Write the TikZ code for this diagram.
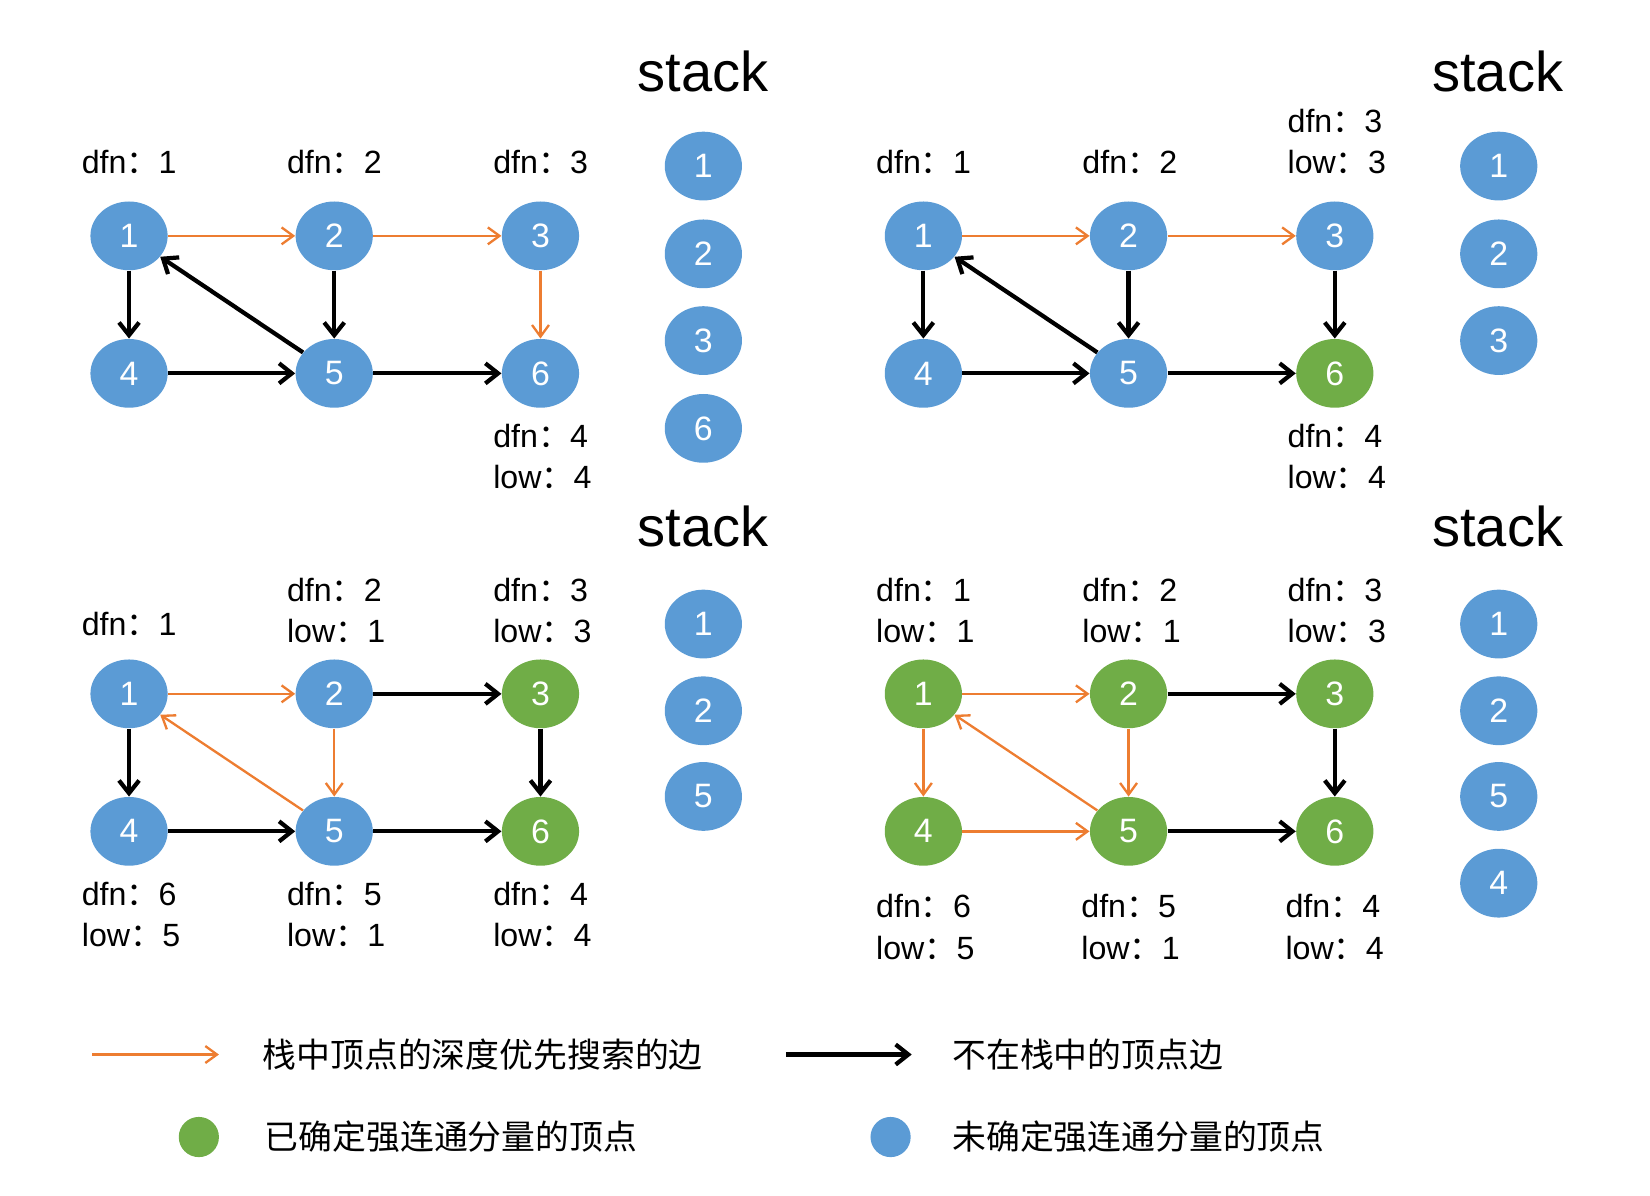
\documentclass[tikz,border=0pt]{standalone}
\usepackage{fontspec}
\setmainfont{Liberation Sans}
\newfontfamily\cjk{Noto Sans CJK SC}
\usetikzlibrary{shapes.geometric,arrows.meta}
\definecolor{nblue}{HTML}{5B9BD5}
\definecolor{ngreen}{HTML}{70AD47}
\definecolor{eorange}{HTML}{ED7D31}
\newcommand{\dl}[2]{#1{\cjk ：}#2}
\begin{document}
\begin{tikzpicture}[x=0.5pt,y=-0.5pt,
  vtx/.style={ellipse, minimum width=36.5pt, minimum height=32.5pt, inner sep=0pt, text=white, font=\fontsize{16}{16}\selectfont},
  bv/.style={vtx, fill=nblue},
  gv/.style={vtx, fill=ngreen},
  lbl/.style={anchor=west, inner sep=0pt, font=\fontsize{15.2}{15.2}\selectfont},
  stk/.style={inner sep=0pt, font=\fontsize{26.5}{26.5}\selectfont},
  legtxt/.style={anchor=west, inner sep=0pt, font=\cjk\fontsize{16}{16}\selectfont},
  dot/.style={circle, minimum size=19pt, inner sep=0pt},
  oe/.style={draw=eorange, line width=1.1pt, -{Straight Barb[length=5.5pt,width=8pt]}},
  be/.style={draw=black, line width=2pt, -{Straight Barb[length=6pt,width=9.5pt]}},
]
\useasboundingbox (0,0) rectangle (1560,1130);

% ---------- Panel A ----------
\node[bv] (a1) at (122,223) {1};
\node[bv] (a2) at (316,223) {2};
\node[bv] (a3) at (511,223) {3};
\node[bv] (a4) at (122,353) {4};
\node[bv] (a5) at (316,353) {5};
\node[bv] (a6) at (511,353) {6};
\node[lbl] (la1) at (77,153) {\dl{dfn}{1}};
\node[lbl] (la2) at (271,153) {\dl{dfn}{2}};
\node[lbl] (la3) at (466,153) {\dl{dfn}{3}};
\node[lbl] (la6d) at (466,412) {\dl{dfn}{4}};
\node[lbl] (la6l) at (466,451) {\dl{low}{4}};
\node[stk] (sta) at (665,68) {stack};
\node[bv] (sa1) at (665,157) {1};
\node[bv] (sa2) at (665,240) {2};
\node[bv] (sa3) at (665,322) {3};
\node[bv] (sa6) at (665,405) {6};
\draw[oe] (a1) -- (a2);
\draw[oe] (a2) -- (a3);
\draw[oe] (a3) -- (a6);
\draw[be] (a1) -- (a4);
\draw[be] (a2) -- (a5);
\draw[be] (a5) -- (a1);
\draw[be] (a4) -- (a5);
\draw[be] (a5) -- (a6);

% ---------- Panel B ----------
\node[bv] (b1) at (873,223) {1};
\node[bv] (b2) at (1067,223) {2};
\node[bv] (b3) at (1262,223) {3};
\node[bv] (b4) at (873,353) {4};
\node[bv] (b5) at (1067,353) {5};
\node[gv] (b6) at (1262,353) {6};
\node[lbl] (lb1) at (828,153) {\dl{dfn}{1}};
\node[lbl] (lb2) at (1023,153) {\dl{dfn}{2}};
\node[lbl] (lb3d) at (1217,114) {\dl{dfn}{3}};
\node[lbl] (lb3l) at (1217,153) {\dl{low}{3}};
\node[lbl] (lb6d) at (1217,412) {\dl{dfn}{4}};
\node[lbl] (lb6l) at (1217,451) {\dl{low}{4}};
\node[stk] (stb) at (1416,68) {stack};
\node[bv] (sb1) at (1417,157) {1};
\node[bv] (sb2) at (1417,240) {2};
\node[bv] (sb3) at (1417,322) {3};
\draw[oe] (b1) -- (b2);
\draw[oe] (b2) -- (b3);
\draw[be] (b3) -- (b6);
\draw[be] (b1) -- (b4);
\draw[be] (b2) -- (b5);
\draw[be] (b5) -- (b1);
\draw[be] (b4) -- (b5);
\draw[be] (b5) -- (b6);

% ---------- Panel C ----------
\node[bv] (c1) at (122,656) {1};
\node[bv] (c2) at (316,656) {2};
\node[gv] (c3) at (511,656) {3};
\node[bv] (c4) at (122,786) {4};
\node[bv] (c5) at (316,786) {5};
\node[gv] (c6) at (511,786) {6};
\node[lbl] (lc1) at (77,590) {\dl{dfn}{1}};
\node[lbl] (lc2d) at (271,558) {\dl{dfn}{2}};
\node[lbl] (lc2l) at (271,597) {\dl{low}{1}};
\node[lbl] (lc3d) at (466,558) {\dl{dfn}{3}};
\node[lbl] (lc3l) at (466,597) {\dl{low}{3}};
\node[lbl] (lc4d) at (77,845) {\dl{dfn}{6}};
\node[lbl] (lc4l) at (77,884) {\dl{low}{5}};
\node[lbl] (lc5d) at (271,845) {\dl{dfn}{5}};
\node[lbl] (lc5l) at (271,884) {\dl{low}{1}};
\node[lbl] (lc6d) at (466,845) {\dl{dfn}{4}};
\node[lbl] (lc6l) at (466,884) {\dl{low}{4}};
\node[stk] (stc) at (665,498) {stack};
\node[bv] (sc1) at (665,590) {1};
\node[bv] (sc2) at (665,672) {2};
\node[bv] (sc5) at (665,753) {5};
\draw[oe] (c1) -- (c2);
\draw[be] (c2) -- (c3);
\draw[be] (c3) -- (c6);
\draw[be] (c1) -- (c4);
\draw[oe] (c2) -- (c5);
\draw[oe] (c5) -- (c1);
\draw[be] (c4) -- (c5);
\draw[be] (c5) -- (c6);

% ---------- Panel D ----------
\node[gv] (d1) at (873,656) {1};
\node[gv] (d2) at (1067,656) {2};
\node[gv] (d3) at (1262,656) {3};
\node[gv] (d4) at (873,786) {4};
\node[gv] (d5) at (1067,786) {5};
\node[gv] (d6) at (1262,786) {6};
\node[lbl] (ld1d) at (828,558) {\dl{dfn}{1}};
\node[lbl] (ld1l) at (828,597) {\dl{low}{1}};
\node[lbl] (ld2d) at (1023,558) {\dl{dfn}{2}};
\node[lbl] (ld2l) at (1023,597) {\dl{low}{1}};
\node[lbl] (ld3d) at (1217,558) {\dl{dfn}{3}};
\node[lbl] (ld3l) at (1217,597) {\dl{low}{3}};
\node[lbl] (ld4d) at (828,857) {\dl{dfn}{6}};
\node[lbl] (ld4l) at (828,896) {\dl{low}{5}};
\node[lbl] (ld5d) at (1022,857) {\dl{dfn}{5}};
\node[lbl] (ld5l) at (1022,896) {\dl{low}{1}};
\node[lbl] (ld6d) at (1215,857) {\dl{dfn}{4}};
\node[lbl] (ld6l) at (1215,896) {\dl{low}{4}};
\node[stk] (std) at (1416,498) {stack};
\node[bv] (sd1) at (1417,590) {1};
\node[bv] (sd2) at (1417,672) {2};
\node[bv] (sd5) at (1417,753) {5};
\node[bv] (sd4) at (1417,835) {4};
\draw[oe] (d1) -- (d2);
\draw[be] (d2) -- (d3);
\draw[be] (d3) -- (d6);
\draw[oe] (d1) -- (d4);
\draw[oe] (d2) -- (d5);
\draw[oe] (d5) -- (d1);
\draw[oe] (d4) -- (d5);
\draw[be] (d5) -- (d6);

% ---------- Legend ----------
\coordinate (lo1) at (87,997);
\coordinate (lo2) at (207,997);
\draw[oe] (lo1) -- (lo2);
\node[legtxt] (lot) at (248,997) {栈中顶点的深度优先搜索的边};
\coordinate (lb1c) at (743,997);
\coordinate (lb2c) at (862,997);
\draw[be] (lb1c) -- (lb2c);
\node[legtxt] (lbt) at (900,997) {不在栈中的顶点边};
\node[dot, fill=ngreen] (lg) at (188,1075) {};
\node[legtxt] (lgt) at (250,1075) {已确定强连通分量的顶点};
\node[dot, fill=nblue] (lbl) at (842,1075) {};
\node[legtxt] (lblt) at (900,1075) {未确定强连通分量的顶点};
\end{tikzpicture}
\end{document}
